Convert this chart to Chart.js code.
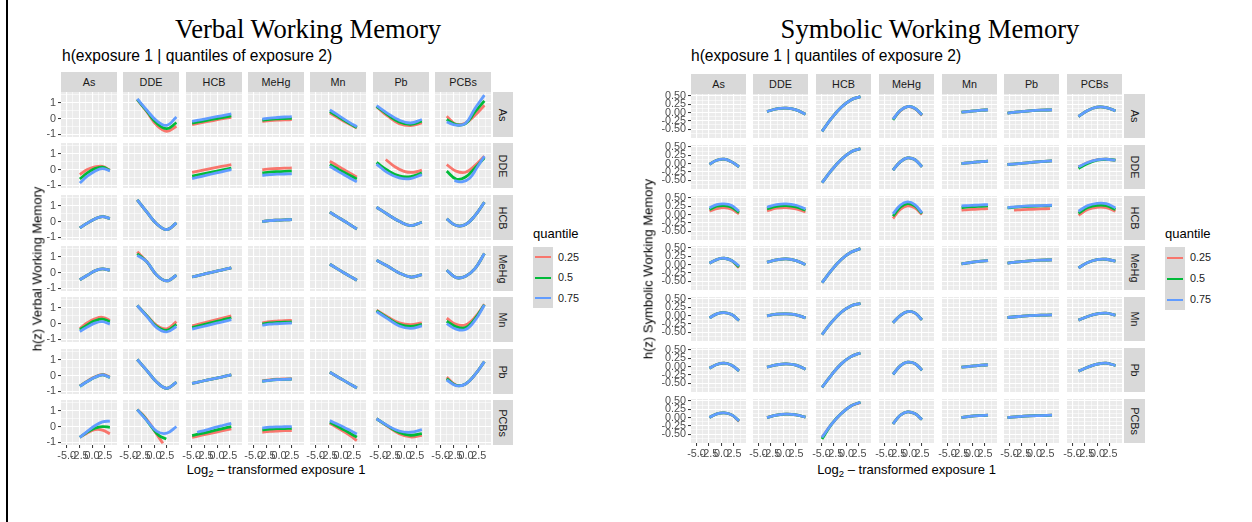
<!DOCTYPE html>
<html lang="en">
<head>
<meta charset="UTF-8">
<title>h(exposure 1 | quantiles of exposure 2)</title>
<script src="https://cdn.jsdelivr.net/npm/chart.js@4.4.1/dist/chart.umd.min.js"></script>
<style>
    body{margin:0; width:1252px; height:522px; background:#fff; position:relative; overflow:hidden;
         font-family:"Liberation Sans", Arial, sans-serif;}
    canvas{position:absolute;}
</style>
</head>
<body>
<script>
// exposures (facet columns = exposure 1, facet rows = exposure 2)
const exposures = ['As', 'DDE', 'HCB', 'MeHg', 'Mn', 'Pb', 'PCBs'];
const quantiles = ['0.25', '0.5', '0.75'];
const quantileColors = ['#F8766D', '#00BA38', '#619CFF'];

// x ticks (log2 exposure 1), shared by every facet
const xLimits = [-6.1, 4.9];
const xMajor = [-5, -2.5, 0, 2.5];
const xMinor = [-3.75, -1.25, 1.25, 3.75];

// y ticks of the two panels
const verbalLimits = [-1.17, 1.69];
const verbalMajor = [-1, 0, 1];
const verbalMinor = [-0.5, 0.5, 1.5];
const symbolicLimits = [-0.77, 0.56];
const symbolicMajor = [-0.5, -0.25, 0, 0.25, 0.5];
const symbolicMinor = [-0.625, -0.375, -0.125, 0.125, 0.375];

// exposure-1 values where each column's curves are read
const xAs = [-2.4, -0.93, 0.55, 2.03, 3.5];
const xDDE = [-3.3, -1.4, 0.55, 2.5, 4.4];
const xHCB = [-4.9, -2.98, -1.05, 0.88, 2.8];
const xMeHg = [-3.3, -1.85, -0.4, 1.05, 2.5];
const xMn = [-2.2, -0.88, 0.45, 1.78, 3.1];
const xPb = [-5.4, -3.18, -0.95, 1.28, 3.5];
const xPCBs = [-3.8, -1.95, -0.1, 1.75, 3.6];
const xGrids = [xAs, xDDE, xHCB, xMeHg, xMn, xPb, xPCBs];

// h(z) per row (exposure 2); one entry per column.
// entry = one curve shared by all quantiles, or [q0.25, q0.5, q0.75]; a curve with its own x is {x, y}
const verbalAs = [
    null,
    [[1.2, 0.42, -0.43, -0.81, -0.49], [1.22, 0.47, -0.3, -0.64, -0.26], [1.25, 0.53, -0.15, -0.43, 0.1]],
    [[-0.38, -0.26, -0.14, -0.02, 0.08], [-0.28, -0.17, -0.05, 0.06, 0.17], [-0.18, -0.06, 0.06, 0.18, 0.3]],
    [[-0.17, -0.13, -0.1, -0.08, -0.07], [-0.1, -0.05, -0.02, 0.0, 0.02], [-0.03, 0.03, 0.07, 0.1, 0.12]],
    [[0.35, 0.1, -0.15, -0.38, -0.6], [0.45, 0.19, -0.08, -0.33, -0.57], [0.55, 0.28, 0.0, -0.27, -0.52]],
    [[0.75, 0.15, -0.32, -0.45, -0.28], [0.78, 0.24, -0.22, -0.37, -0.17], [0.82, 0.32, -0.1, -0.28, -0.06]],
    [[0.15, -0.36, -0.28, 0.21, 0.85], [-0.06, -0.38, -0.32, 0.42, 1.13], [-0.21, -0.42, -0.3, 0.64, 1.49]]
];
const verbalDDE = [
    [[-0.32, 0.0, 0.17, 0.21, -0.04], [-0.6, -0.21, 0.06, 0.15, -0.04], [-0.85, -0.42, -0.1, 0.06, -0.08]],
    null,
    [[-0.17, -0.05, 0.08, 0.2, 0.32], [-0.42, -0.29, -0.16, -0.03, 0.1], [-0.57, -0.43, -0.28, -0.14, 0.0]],
    [[0.0, 0.04, 0.07, 0.09, 0.1], [-0.21, -0.16, -0.13, -0.11, -0.1], [-0.36, -0.32, -0.29, -0.28, -0.27]],
    [[0.53, 0.28, 0.02, -0.23, -0.47], [0.32, 0.08, -0.16, -0.38, -0.6], [0.21, -0.05, -0.3, -0.55, -0.78]],
    [{x: [-3.6, -1.8, 0.0, 1.8, 3.5], y: [0.64, 0.18, -0.11, -0.18, -0.04]},
     [0.45, -0.06, -0.4, -0.44, -0.21], [0.35, -0.21, -0.53, -0.57, -0.32]],
    [[0.32, -0.1, -0.17, 0.25, 0.85], [-0.1, -0.6, -0.47, 0.1, 0.75],
     {x: [-2.3, -0.8, 0.7, 2.1, 3.6], y: [-0.7, -0.78, -0.55, 0.1, 0.85]}]
];
const verbalHCB = [
    [-0.4, -0.1, 0.17, 0.32, 0.19],
    [1.38, 0.6, -0.15, -0.51, -0.08],
    null,
    [0.0, 0.06, 0.09, 0.11, 0.12],
    [0.6, 0.33, 0.07, -0.2, -0.47],
    [0.91, 0.45, 0.02, -0.25, -0.04],
    [0.17, -0.25, -0.19, 0.38, 1.23]
];
const verbalMeHg = [
    [-0.45, -0.17, 0.11, 0.23, 0.15],
    [[1.32, 0.68, -0.17, -0.53, -0.17], [1.2, 0.68, -0.17, -0.53, -0.17], [1.1, 0.68, -0.17, -0.53, -0.17]],
    [-0.28, -0.13, 0.02, 0.16, 0.3],
    null,
    [0.53, 0.27, 0.01, -0.24, -0.49],
    [0.79, 0.4, -0.02, -0.28, -0.13],
    [0.15, -0.32, -0.23, 0.25, 1.21]
];
const verbalMn = [
    [[-0.3, 0.05, 0.3, 0.4, 0.2], [-0.4, -0.08, 0.17, 0.28, 0.12], [-0.5, -0.22, 0.03, 0.12, -0.03]],
    [[1.15, 0.5, -0.12, -0.33, 0.12], [1.15, 0.48, -0.2, -0.43, -0.05], [1.15, 0.45, -0.27, -0.52, -0.18]],
    [[-0.15, 0.01, 0.17, 0.33, 0.49], [-0.25, -0.1, 0.06, 0.21, 0.37], [-0.35, -0.2, -0.05, 0.1, 0.25]],
    [[0.05, 0.12, 0.16, 0.19, 0.2], [-0.02, 0.04, 0.07, 0.09, 0.1], [-0.1, -0.04, -0.01, 0.02, 0.03]],
    null,
    [[0.85, 0.42, 0.05, -0.07, 0.05], [0.82, 0.35, -0.05, -0.18, -0.05], [0.76, 0.3, -0.15, -0.3, -0.15]],
    [[0.34, -0.05, -0.08, 0.4, 1.23], [0.15, -0.2, -0.25, 0.3, 1.2], [0.0, -0.35, -0.38, 0.2, 1.18]]
];
const verbalPb = [
    [[-0.65, -0.35, -0.08, 0.07, -0.08], [-0.68, -0.38, -0.11, 0.04, -0.11], [-0.68, -0.38, -0.11, 0.04, -0.11]],
    [1.02, 0.32, -0.42, -0.81, -0.42],
    [-0.49, -0.36, -0.22, -0.09, 0.04],
    [[-0.33, -0.27, -0.23, -0.21, -0.2], [-0.36, -0.3, -0.26, -0.24, -0.23], [-0.36, -0.3, -0.26, -0.24, -0.23]],
    [0.21, -0.04, -0.29, -0.54, -0.79],
    null,
    [[-0.1, -0.6, -0.53, 0.06, 0.89], [-0.2, -0.62, -0.53, 0.06, 0.89], [-0.28, -0.64, -0.53, 0.06, 0.89]]
];
const verbalPCBs = [
    [[-0.68, -0.4, -0.2, -0.22, -0.45], [-0.68, -0.35, -0.1, 0.0, -0.05], [-0.68, -0.3, 0.05, 0.3, 0.35]],
    [{x: [-3.3, -2.04, -0.78, 0.48, 1.74], y: [1.08, 0.7, 0.17, -0.47, -1.06]},
     {x: [-3.3, -1.88, -0.45, 0.98, 2.4], y: [1.08, 0.59, -0.04, -0.57, -0.79]},
     [1.08, 0.38, -0.3, -0.42, 0.0]],
    [[-0.68, -0.55, -0.42, -0.28, -0.15], [-0.57, -0.43, -0.29, -0.14, 0.0],
     {x: [-3.9, -2.2, -0.55, 1.1, 2.8], y: [-0.36, -0.22, -0.07, 0.07, 0.21]}],
    [[-0.36, -0.31, -0.28, -0.26, -0.25], [-0.21, -0.16, -0.13, -0.12, -0.11], [-0.08, -0.04, -0.02, -0.01, 0.0]],
    [[0.21, -0.04, -0.3, -0.58, -0.89], [0.28, 0.05, -0.18, -0.42, -0.68], [0.38, 0.18, -0.02, -0.24, -0.47]],
    [[0.5, 0.0, -0.45, -0.66, -0.55], [0.5, 0.03, -0.38, -0.55, -0.45], [0.5, 0.05, -0.28, -0.36, -0.2]],
    null
];

const symbolicAs = [
    null,
    [0.03, 0.11, 0.13, 0.08, -0.05],
    [-0.57, -0.17, 0.16, 0.38, 0.48],
    [[-0.21, 0.05, 0.18, 0.12, -0.09], [-0.22, 0.06, 0.18, 0.13, -0.07], [-0.2, 0.06, 0.18, 0.13, -0.07]],
    [0.01, 0.03, 0.05, 0.07, 0.08],
    [-0.02, 0.02, 0.05, 0.07, 0.08],
    [-0.12, 0.06, 0.16, 0.15, 0.05]
];
const symbolicDDE = [
    [-0.02, 0.1, 0.13, 0.05, -0.1],
    null,
    [-0.58, -0.2, 0.12, 0.35, 0.45],
    [-0.2, 0.05, 0.17, 0.12, -0.1],
    [0.0, 0.02, 0.04, 0.06, 0.07],
    [-0.03, 0.0, 0.03, 0.06, 0.08],
    [[-0.1, 0.03, 0.11, 0.13, 0.1], [-0.15, 0.0, 0.1, 0.13, 0.1], [-0.1, 0.03, 0.11, 0.13, 0.1]]
];
const symbolicHCB = [
    [[0.1, 0.18, 0.21, 0.16, 0.02], [0.15, 0.25, 0.27, 0.22, 0.06], [0.2, 0.3, 0.32, 0.27, 0.1]],
    [[0.11, 0.19, 0.21, 0.17, 0.08], [0.17, 0.25, 0.27, 0.23, 0.13], [0.22, 0.3, 0.32, 0.28, 0.17]],
    null,
    [[-0.12, 0.15, 0.26, 0.2, 0.0], [-0.05, 0.22, 0.33, 0.26, 0.03], [0.02, 0.28, 0.38, 0.3, 0.05]],
    [[0.13, 0.15, 0.16, 0.17, 0.18], [0.21, 0.23, 0.24, 0.25, 0.26], [0.26, 0.27, 0.28, 0.29, 0.3]],
    [{x: [-4.1, -2.3, -0.5, 1.3, 3.1], y: [0.13, 0.15, 0.16, 0.17, 0.18]},
     [0.2, 0.23, 0.25, 0.26, 0.27], [0.21, 0.24, 0.26, 0.27, 0.28]],
    [[-0.02, 0.15, 0.22, 0.21, 0.1], [0.04, 0.21, 0.28, 0.27, 0.15], [0.1, 0.27, 0.34, 0.33, 0.2]]
];
const symbolicMeHg = [
    [[0.04, 0.15, 0.19, 0.12, -0.1], [0.04, 0.15, 0.19, 0.12, -0.07], [0.04, 0.15, 0.19, 0.12, -0.04]],
    [0.07, 0.14, 0.17, 0.12, 0.0],
    [-0.55, -0.17, 0.15, 0.37, 0.48],
    null,
    [0.02, 0.05, 0.08, 0.1, 0.12],
    [0.04, 0.08, 0.11, 0.13, 0.14],
    [-0.1, 0.06, 0.15, 0.16, 0.1]
];
const symbolicMn = [
    [-0.07, 0.05, 0.09, 0.03, -0.15],
    [-0.01, 0.04, 0.05, 0.02, -0.07],
    [-0.58, -0.2, 0.1, 0.29, 0.37],
    [-0.22, 0.0, 0.12, 0.08, -0.13],
    null,
    [-0.06, -0.03, 0.0, 0.01, 0.02],
    [-0.14, -0.03, 0.05, 0.07, 0.01]
];
const symbolicPb = [
    [-0.05, 0.06, 0.1, 0.04, -0.13],
    [-0.02, 0.05, 0.08, 0.04, -0.08],
    [-0.63, -0.25, 0.08, 0.3, 0.41],
    [-0.24, 0.02, 0.13, 0.09, -0.11],
    [-0.02, 0.0, 0.02, 0.04, 0.05],
    null,
    [-0.14, -0.02, 0.07, 0.1, 0.03]
];
const symbolicPCBs = [
    [[0.0, 0.11, 0.14, 0.08, -0.12], [0.0, 0.11, 0.14, 0.08, -0.1], [0.0, 0.11, 0.14, 0.08, -0.1]],
    [0.0, 0.07, 0.1, 0.08, 0.01],
    [[-0.6, -0.2, 0.12, 0.35, 0.45], [-0.65, -0.2, 0.12, 0.35, 0.46], [-0.6, -0.2, 0.12, 0.35, 0.46]],
    [-0.19, 0.07, 0.17, 0.12, -0.06],
    [0.0, 0.03, 0.05, 0.06, 0.07],
    [0.0, 0.03, 0.05, 0.06, 0.07],
    null
];

const FONT = '"Liberation Sans", Arial, sans-serif';
const X_AXIS_H = 16;
const LABEL_ROOM = 6;   // spare canvas around edge facets so tick labels are not cut

const panels = [
    {
        rows: [verbalAs, verbalDDE, verbalHCB, verbalMeHg, verbalMn, verbalPb, verbalPCBs],
        yLimits: verbalLimits, yMajor: verbalMajor, yMinor: verbalMinor, yDigits: 0,
        colX: [61, 123, 186, 248, 310, 373, 435], colW: 56,
        rowY: [92, 143, 195, 246, 297, 349, 400], rowH: 45,
        stripTop: 72, stripX: 493, stripW: 20, yAxisW: 18,
        title: 'Verbal Working Memory', titleX: 308, subX: 62,
        yTitle: 'h(z) Verbal Working Memory', yTitleX: 36.5, xTitleX: 276,
        legendX: 533, keyH: 61
    },
    {
        rows: [symbolicAs, symbolicDDE, symbolicHCB, symbolicMeHg, symbolicMn, symbolicPb, symbolicPCBs],
        yLimits: symbolicLimits, yMajor: symbolicMajor, yMinor: symbolicMinor, yDigits: 2,
        colX: [691, 753, 816, 879, 942, 1004, 1067], colW: 55,
        rowY: [94, 145, 196, 246, 297, 348, 399], rowH: 44,
        stripTop: 74, stripX: 1124, stripW: 21, yAxisW: 36,
        title: 'Symbolic Working Memory', titleX: 930, subX: 691,
        yTitle: 'h(z) Symbolic Working Memory', yTitleX: 647.5, xTitleX: 906.5,
        legendX: 1165, keyH: 63
    }
];

// grey panel background under the grid
const panelBg = {
    id: 'panelBg',
    beforeDraw(chart) {
        const a = chart.chartArea, ctx = chart.ctx;
        ctx.save();
        ctx.fillStyle = '#EBEBEB';
        ctx.fillRect(a.left, a.top, a.right - a.left, a.bottom - a.top);
        ctx.restore();
    }
};

function addDiv(css, html) {
    const d = document.createElement('div');
    d.style.cssText = 'position:absolute;white-space:nowrap;' + css;
    if (html != null) d.innerHTML = html;
    document.body.appendChild(d);
    return d;
}

function curvesOf(entry, xs) {
    const triple = entry.length === 3 && typeof entry[0] === 'object';
    const list = triple ? entry : [entry, entry, entry];
    return list.map(c => Array.isArray(c) ? {x: xs, y: c} : c);
}

function scaleOpts(limits, major, minor, showLabels, size, fmt) {
    const isMajor = v => major.includes(v);
    return {
        type: 'linear',
        min: limits[0],
        max: limits[1],
        afterBuildTicks: s => {
            s.ticks = major.concat(minor).sort((a, b) => a - b)
                .filter(v => v >= limits[0] && v <= limits[1]).map(v => ({value: v}));
        },
        afterFit: s => {
            // fixed axis band, and no label overhang eating into the panel
            if (s.isHorizontal()) s.height = size; else s.width = size;
            s.paddingTop = s.paddingBottom = s.paddingLeft = s.paddingRight = 0;
        },
        border: {display: false},
        grid: {
            color: '#FFFFFF',
            lineWidth: c => isMajor(c.tick.value) ? 1.1 : 0.55,
            drawTicks: showLabels,
            tickLength: 3,
            tickWidth: 1,
            tickColor: c => isMajor(c.tick.value) ? '#333333' : 'rgba(0,0,0,0)'
        },
        ticks: {
            display: showLabels,
            autoSkip: false,
            maxRotation: 0,
            minRotation: 0,
            padding: 2,
            color: '#4D4D4D',
            font: {family: FONT, size: 10.8},
            callback: v => isMajor(v) ? fmt(v) : ''
        }
    };
}

function drawFacet(p, r, c) {
    const firstCol = c === 0, lastRow = r === 6;
    const padL = firstCol ? p.yAxisW : (lastRow ? LABEL_ROOM : 0);
    const padT = firstCol ? LABEL_ROOM : 0;
    const padB = lastRow ? X_AXIS_H : 0;
    const cv = document.createElement('canvas');
    cv.width = p.colW + padL;
    cv.height = p.rowH + padB + padT;
    cv.style.left = (p.colX[c] - padL) + 'px';
    cv.style.top = (p.rowY[r] - padT) + 'px';
    document.body.appendChild(cv);

    const entry = p.rows[r][c];
    const datasets = [];
    if (entry) {
        curvesOf(entry, xGrids[c]).forEach((curve, q) => {
            datasets.push({
                label: quantiles[q],
                data: curve.x.map((x, i) => ({x: x, y: curve.y[i]})),
                borderColor: quantileColors[q],
                borderWidth: 2.8,
                tension: 0.4,
                pointRadius: 0,
                fill: false,
                spanGaps: false,
                order: 2 - q
            });
        });
    }

    new Chart(cv, {
        type: 'line',
        data: {datasets: datasets},
        options: {
            responsive: false,
            animation: false,
            events: [],
            layout: {padding: {top: padT, left: 0, right: 0, bottom: 0}, autoPadding: false},
            plugins: {legend: {display: false}, tooltip: {enabled: false}},
            scales: {
                x: scaleOpts(xLimits, xMajor, xMinor, lastRow, padB, v => v.toFixed(1)),
                y: scaleOpts(p.yLimits, p.yMajor, p.yMinor, firstCol, padL, v => v.toFixed(p.yDigits))
            }
        },
        plugins: [panelBg]
    });
}

function drawPanel(p) {
    // titles
    addDiv(`left:${p.titleX}px;top:16px;transform:translateX(-50%);font-family:"Liberation Serif",serif;` +
           `font-size:26.6px;line-height:1;color:#000;`, p.title);
    addDiv(`left:${p.subX}px;top:48px;font-size:15.6px;line-height:1;color:#000;`,
           'h(exposure 1 | quantiles of exposure 2)');

    // strips
    exposures.forEach((name, c) => {
        addDiv(`left:${p.colX[c]}px;top:${p.stripTop}px;width:${p.colW}px;height:20px;background:#D9D9D9;` +
               `color:#1A1A1A;font-size:10.8px;line-height:20px;text-align:center;`, name);
    });
    exposures.forEach((name, r) => {
        const s = addDiv(`left:${p.stripX}px;top:${p.rowY[r]}px;width:${p.stripW}px;height:${p.rowH}px;` +
                         `background:#D9D9D9;`);
        const t = document.createElement('div');
        t.style.cssText = 'position:absolute;left:50%;top:50%;transform:translate(-50%,-50%) rotate(90deg);' +
                          'font-size:10.8px;line-height:1;color:#1A1A1A;white-space:nowrap;';
        t.textContent = name;
        s.appendChild(t);
    });

    for (let r = 0; r < 7; r++) {
        for (let c = 0; c < 7; c++) drawFacet(p, r, c);
    }

    // axis titles
    const midY = (p.rowY[0] + p.rowY[6] + p.rowH) / 2;
    addDiv(`left:${p.yTitleX}px;top:${midY}px;transform:translate(-50%,-50%) rotate(-90deg);` +
           `font-size:13px;line-height:1;color:#000;`, p.yTitle);
    addDiv(`left:${p.xTitleX}px;top:463px;transform:translateX(-50%);font-size:13px;line-height:1;color:#000;`,
           'Log<sub style="font-size:9.5px;vertical-align:-3px;line-height:0">2</sub> \u2013 transformed exposure 1');

    // legend
    addDiv(`left:${p.legendX}px;top:227px;font-size:13px;line-height:1;color:#000;`, 'quantile');
    const box = addDiv(`left:${p.legendX}px;top:247px;width:20px;height:${p.keyH}px;background:#D9D9D9;`);
    const keyStep = p.keyH / 3;
    quantiles.forEach((q, i) => {
        const cy = keyStep * (i + 0.5);
        const ln = document.createElement('div');
        ln.style.cssText = `position:absolute;left:2px;width:16px;top:${cy - 1}px;height:2px;background:${quantileColors[i]};`;
        box.appendChild(ln);
        addDiv(`left:${p.legendX + 25}px;top:${247 + cy - 5.3}px;font-size:10.8px;line-height:1;color:#1A1A1A;`, q);
    });
}

// left frame rule
addDiv('left:6px;top:0;width:2px;height:522px;background:#000;');

panels.forEach(drawPanel);
</script>
</body>
</html>
